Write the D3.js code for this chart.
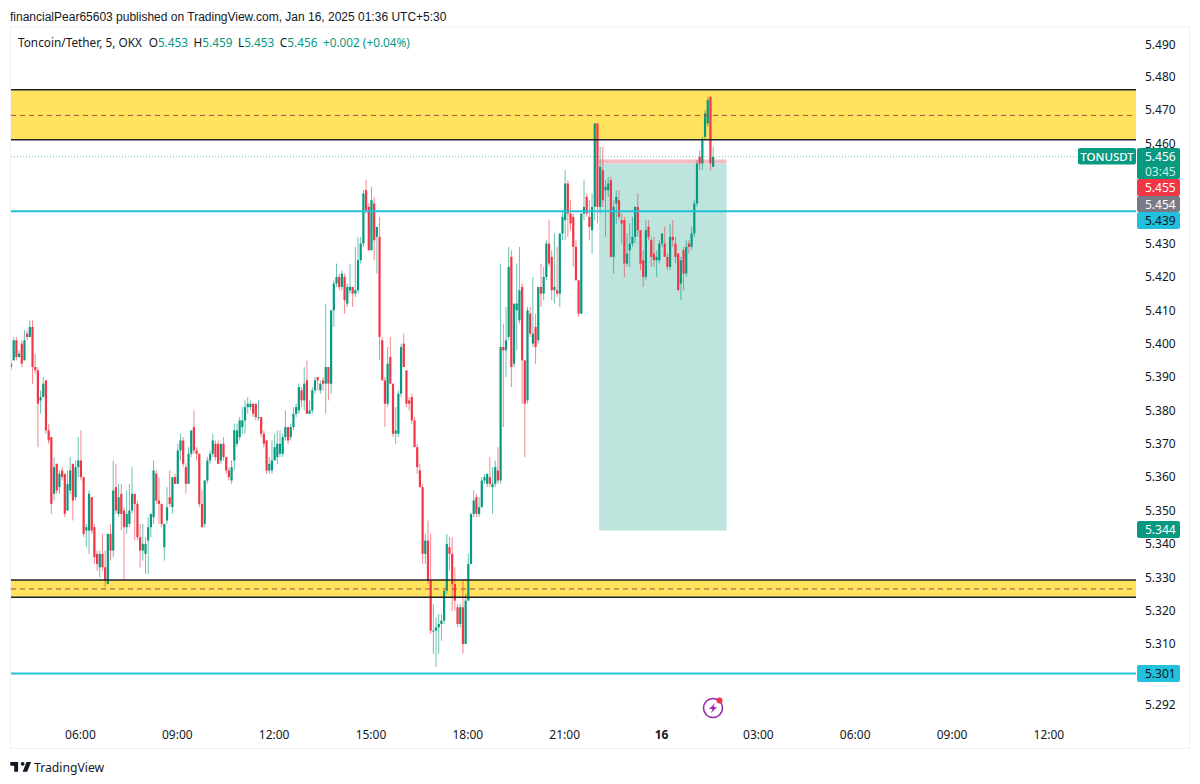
<!DOCTYPE html>
<html>
<head>
<meta charset="utf-8">
<title>TONUSDT</title>
<script src="https://cdnjs.cloudflare.com/ajax/libs/d3/7.8.5/d3.min.js"></script>
<style>
  html, body { margin: 0; padding: 0; background: #fff; }
  svg { display: block; }
  text { font-family: "Noto Sans", sans-serif; }
  .axis text { font-size: 12px; fill: #131722; }
  .axis path, .axis line { display: none; }
</style>
</head>
<body>
<div id="graph-viz"></div>
<script>
// 5 minute candles
const opens = [
  5.393,5.395,5.401,5.396,5.400,5.395,5.403,5.402,5.405,5.393,
  5.392,5.383,5.384,5.389,5.374,5.372,5.355,5.364,5.357,5.362,
  5.361,5.350,5.356,5.364,5.354,5.363,5.365,5.360,5.344,5.344,
  5.354,5.345,5.337,5.333,5.337,5.333,5.328,5.343,5.338,5.357,
  5.349,5.355,5.350,5.345,5.346,5.350,5.355,5.352,5.342,5.338,
  5.337,5.341,5.345,5.348,5.361,5.353,5.352,5.339,5.347,5.354,
  5.351,5.360,5.358,5.368,5.371,5.363,5.358,5.367,5.375,5.368,
  5.367,5.352,5.346,5.359,5.365,5.367,5.370,5.370,5.365,5.370,
  5.366,5.362,5.359,5.365,5.370,5.372,5.375,5.377,5.381,5.381,
  5.382,5.382,5.378,5.378,5.373,5.371,5.362,5.362,5.365,5.366,
  5.367,5.367,5.372,5.375,5.372,5.375,5.379,5.380,5.386,5.383,
  5.389,5.379,5.380,5.386,5.390,5.386,5.389,5.388,5.393,5.388,
  5.410,5.418,5.420,5.417,5.420,5.412,5.416,5.417,5.415,5.416,
  5.425,5.430,5.446,5.441,5.428,5.442,5.432,5.432,5.401,5.389,
  5.382,5.396,5.388,5.373,5.373,5.385,5.400,5.392,5.383,5.384,
  5.377,5.369,5.362,5.357,5.337,5.341,5.329,5.314,5.314,5.315,
  5.316,5.317,5.326,5.339,5.337,5.328,5.321,5.316,5.321,5.310,
  5.323,5.334,5.349,5.354,5.349,5.351,5.359,5.358,5.360,5.357,
  5.358,5.362,5.359,5.399,5.398,5.402,5.426,5.394,5.410,5.407,
  5.417,5.395,5.383,5.409,5.400,5.405,5.401,5.417,5.415,5.420,
  5.430,5.426,5.416,5.416,5.415,5.433,5.437,5.448,5.439,5.438,
  5.429,5.419,5.409,5.439,5.444,5.438,5.434,5.441,5.466,5.441,
  5.452,5.446,5.446,5.449,5.426,5.442,5.443,5.437,5.437,5.424,
  5.428,5.430,5.432,5.441,5.434,5.425,5.420,5.435,5.431,5.427,
  5.425,5.425,5.430,5.430,5.426,5.423,5.432,5.430,5.427,5.418,
  5.428,5.421,5.430,5.429,5.433,5.442,5.456,5.454,5.462,5.466,5.474,5.453
];
const highs = [
  5.395,5.402,5.402,5.398,5.401,5.404,5.404,5.407,5.407,5.397,
  5.393,5.386,5.390,5.389,5.376,5.372,5.366,5.364,5.362,5.363,
  5.361,5.362,5.366,5.364,5.365,5.372,5.374,5.360,5.346,5.356,
  5.354,5.346,5.338,5.338,5.343,5.338,5.343,5.346,5.365,5.364,
  5.358,5.358,5.351,5.356,5.358,5.363,5.355,5.353,5.346,5.346,
  5.342,5.348,5.349,5.365,5.362,5.360,5.352,5.346,5.357,5.362,
  5.360,5.361,5.370,5.373,5.372,5.364,5.369,5.374,5.380,5.369,
  5.367,5.356,5.359,5.366,5.368,5.373,5.371,5.371,5.370,5.372,
  5.366,5.363,5.365,5.376,5.376,5.378,5.381,5.383,5.384,5.383,
  5.382,5.382,5.383,5.378,5.374,5.371,5.366,5.371,5.373,5.374,
  5.374,5.373,5.380,5.375,5.376,5.381,5.382,5.388,5.387,5.393,
  5.395,5.383,5.387,5.390,5.390,5.389,5.390,5.412,5.393,5.410,
  5.419,5.424,5.421,5.422,5.421,5.418,5.424,5.417,5.429,5.432,
  5.432,5.446,5.449,5.442,5.447,5.444,5.435,5.438,5.402,5.390,
  5.399,5.402,5.388,5.381,5.386,5.400,5.403,5.392,5.384,5.385,
  5.378,5.370,5.364,5.358,5.343,5.347,5.343,5.322,5.318,5.319,
  5.319,5.326,5.343,5.342,5.342,5.333,5.322,5.322,5.329,5.325,
  5.337,5.349,5.356,5.355,5.354,5.360,5.361,5.361,5.366,5.363,
  5.365,5.369,5.424,5.406,5.411,5.429,5.428,5.412,5.424,5.429,
  5.418,5.395,5.411,5.411,5.420,5.409,5.417,5.424,5.423,5.431,
  5.437,5.428,5.433,5.429,5.433,5.440,5.452,5.449,5.443,5.439,
  5.431,5.419,5.439,5.449,5.445,5.443,5.445,5.466,5.466,5.459,
  5.459,5.449,5.450,5.450,5.443,5.446,5.446,5.439,5.438,5.433,
  5.436,5.438,5.441,5.445,5.434,5.428,5.437,5.437,5.432,5.432,
  5.428,5.431,5.433,5.435,5.427,5.436,5.437,5.432,5.427,5.426,
  5.429,5.431,5.431,5.435,5.443,5.455,5.458,5.462,5.470,5.474,5.474,5.459
];
const lows = [
  5.392,5.395,5.395,5.396,5.393,5.395,5.401,5.402,5.388,5.391,
  5.369,5.379,5.384,5.373,5.370,5.349,5.353,5.355,5.355,5.359,
  5.348,5.350,5.355,5.347,5.353,5.360,5.359,5.342,5.339,5.337,
  5.343,5.334,5.332,5.330,5.332,5.327,5.328,5.335,5.336,5.349,
  5.348,5.344,5.329,5.343,5.345,5.349,5.341,5.341,5.333,5.335,
  5.331,5.331,5.342,5.346,5.352,5.346,5.345,5.335,5.346,5.351,
  5.349,5.358,5.358,5.365,5.363,5.355,5.358,5.366,5.367,5.365,
  5.351,5.345,5.345,5.358,5.364,5.366,5.365,5.364,5.364,5.365,
  5.361,5.359,5.358,5.362,5.369,5.371,5.373,5.373,5.379,5.380,
  5.378,5.377,5.377,5.372,5.369,5.361,5.361,5.361,5.365,5.364,
  5.366,5.366,5.371,5.370,5.371,5.374,5.378,5.379,5.381,5.380,
  5.379,5.379,5.379,5.385,5.386,5.385,5.386,5.379,5.383,5.385,
  5.405,5.417,5.416,5.416,5.409,5.411,5.415,5.411,5.414,5.415,
  5.424,5.429,5.439,5.428,5.428,5.425,5.421,5.395,5.389,5.375,
  5.381,5.388,5.372,5.370,5.372,5.384,5.393,5.381,5.380,5.376,
  5.369,5.361,5.357,5.334,5.334,5.328,5.313,5.307,5.303,5.307,
  5.311,5.316,5.325,5.332,5.320,5.320,5.315,5.315,5.307,5.310,
  5.323,5.334,5.348,5.348,5.348,5.351,5.358,5.357,5.357,5.349,
  5.357,5.358,5.358,5.375,5.390,5.401,5.387,5.393,5.398,5.406,
  5.382,5.366,5.382,5.402,5.399,5.394,5.400,5.411,5.413,5.419,
  5.423,5.413,5.412,5.414,5.411,5.431,5.431,5.432,5.434,5.423,
  5.419,5.408,5.409,5.437,5.438,5.431,5.427,5.437,5.436,5.439,
  5.441,5.432,5.444,5.426,5.421,5.436,5.437,5.430,5.420,5.423,
  5.423,5.429,5.430,5.432,5.422,5.417,5.419,5.431,5.423,5.423,
  5.420,5.424,5.429,5.426,5.422,5.422,5.429,5.424,5.416,5.413,
  5.416,5.420,5.427,5.428,5.432,5.441,5.452,5.452,5.461,5.465,5.452,5.453
];
const closes = [
  5.394,5.401,5.396,5.397,5.394,5.401,5.402,5.405,5.393,5.392,
  5.382,5.384,5.388,5.374,5.371,5.352,5.363,5.356,5.361,5.360,
  5.349,5.358,5.362,5.353,5.363,5.365,5.360,5.343,5.345,5.355,
  5.344,5.336,5.334,5.337,5.333,5.329,5.343,5.338,5.356,5.350,
  5.354,5.349,5.345,5.349,5.350,5.355,5.352,5.342,5.338,5.340,
  5.340,5.345,5.349,5.362,5.353,5.352,5.346,5.346,5.351,5.352,
  5.360,5.358,5.368,5.371,5.364,5.358,5.367,5.374,5.368,5.367,
  5.352,5.345,5.359,5.365,5.367,5.371,5.366,5.364,5.370,5.366,
  5.362,5.360,5.363,5.374,5.374,5.377,5.377,5.381,5.382,5.382,
  5.379,5.378,5.378,5.373,5.370,5.362,5.364,5.365,5.369,5.370,
  5.370,5.372,5.375,5.371,5.375,5.379,5.381,5.387,5.383,5.388,
  5.379,5.380,5.386,5.389,5.389,5.388,5.388,5.393,5.388,5.410,
  5.418,5.420,5.417,5.421,5.413,5.417,5.417,5.415,5.416,5.425,
  5.430,5.445,5.440,5.428,5.443,5.431,5.435,5.402,5.389,5.382,
  5.394,5.388,5.373,5.374,5.385,5.399,5.393,5.382,5.382,5.377,
  5.369,5.363,5.357,5.337,5.341,5.329,5.314,5.314,5.315,5.316,
  5.317,5.326,5.340,5.337,5.328,5.323,5.316,5.321,5.310,5.323,
  5.334,5.349,5.353,5.349,5.351,5.359,5.360,5.361,5.358,5.358,
  5.363,5.359,5.399,5.398,5.401,5.423,5.393,5.412,5.412,5.416,
  5.395,5.382,5.410,5.403,5.403,5.399,5.417,5.415,5.420,5.430,
  5.424,5.416,5.417,5.415,5.433,5.438,5.448,5.439,5.436,5.429,
  5.419,5.409,5.439,5.441,5.439,5.435,5.441,5.466,5.441,5.453,
  5.443,5.447,5.448,5.426,5.441,5.444,5.438,5.436,5.424,5.427,
  5.430,5.432,5.441,5.434,5.424,5.420,5.434,5.432,5.426,5.425,
  5.426,5.430,5.433,5.426,5.423,5.432,5.431,5.426,5.416,5.425,
  5.421,5.429,5.429,5.433,5.442,5.454,5.454,5.461,5.469,5.473,5.454,5.456
];

// 5.450 and 5.440 sit behind the price labels in the original, so they are left out
const priceTicks = [5.49, 5.48, 5.47, 5.46, 5.43, 5.42, 5.41, 5.40, 5.39, 5.38,
  5.37, 5.36, 5.35, 5.34, 5.33, 5.32, 5.31, 5.292];
const timeTickBars = [26, 62, 98, 134, 170, 206, 242, 278, 314, 350, 386];
const timeTickLabels = ['06:00', '09:00', '12:00', '15:00', '18:00', '21:00', '16', '03:00', '06:00', '09:00', '12:00'];

// zones and levels drawn on the chart, in price: top, bottom, middle
const zones = [[5.4761, 5.4611, 5.4684], [5.3292, 5.3240, 5.3265]];
const levels = [5.4397, 5.3010];
const lastPrice = 5.456;
const positionBars = [218.6, 266];
const positionStop = 5.4552;
const positionEntry = 5.454;
const positionTarget = 5.344;

const GREEN = '#089981';
const RED = '#f23645';
const CYAN = '#22c1d6';
const width = 1200;
const height = 784;
const plotLeft = 11;
const plotRight = 1136;

const svg = d3.select('#graph-viz').append('svg')
  .attr('width', width)
  .attr('height', height)
  .attr('viewBox', `0 0 ${width} ${height}`);

const xScale = d3.scaleLinear().domain([0, 386]).range([11, 1049.4]);
const yScale = d3.scaleLinear()
  .domain([5.292, 5.301, 5.31, 5.48, 5.49])
  .range([705, 673.5, 644, 76.7, 44.7]);

// frame around the chart
svg.append('path')
  .attr('d', 'M10.5,27V748.5H1189.5V27H10.5')
  .attr('fill', 'none')
  .attr('stroke', '#f0f1f4');

svg.append('text')
  .attr('x', 10).attr('y', 20.5)
  .attr('font-size', 12)
  .attr('fill', '#131722')
  .style('font-family', '"Liberation Sans", sans-serif')
  .text('financialPear65603 published on TradingView.com, Jan 16, 2025 01:36 UTC+5:30');

// legend
const legend = svg.append('text').attr('x', 18).attr('y', 47).attr('font-size', 11.8).attr('fill', '#131722');
legend.append('tspan').text('Toncoin/Tether, 5, OKX');
[['O', '5.453'], ['H', '5.459'], ['L', '5.453'], ['C', '5.456']].forEach((d, i) => {
  legend.append('tspan').attr('dx', i === 0 ? 7 : 5.5).text(d[0]);
  legend.append('tspan').attr('fill', GREEN).text(d[1]);
});
legend.append('tspan').attr('dx', 5.5).attr('fill', GREEN).text('+0.002 (+0.04%)');

// yellow zones
zones.forEach((z) => {
  svg.append('rect')
    .attr('x', plotLeft).attr('width', plotRight - plotLeft)
    .attr('y', yScale(z[0])).attr('height', yScale(z[1]) - yScale(z[0]))
    .attr('fill', '#ffe25e');
});

// short position box
svg.append('rect')
  .attr('x', xScale(positionBars[0])).attr('width', xScale(positionBars[1]) - xScale(positionBars[0]))
  .attr('y', yScale(positionEntry)).attr('height', yScale(positionTarget) - yScale(positionEntry))
  .attr('fill', '#bde5de');
svg.append('rect')
  .attr('x', xScale(positionBars[0])).attr('width', xScale(positionBars[1]) - xScale(positionBars[0]))
  .attr('y', yScale(positionStop)).attr('height', yScale(positionEntry) - yScale(positionStop))
  .attr('fill', '#f5bcc4');

// candles
const bars = d3.range(opens.length);
const candles = svg.append('g').attr('clip-path', 'url(#plot-clip)');
svg.append('clipPath').attr('id', 'plot-clip').append('rect')
  .attr('x', plotLeft).attr('y', 27).attr('width', plotRight - plotLeft).attr('height', 700);

const barColor = (i) => (closes[i] >= opens[i] ? GREEN : RED);

candles.selectAll('line.wick')
  .data(bars)
  .enter()
  .append('line')
  .attr('class', 'wick')
  .attr('x1', (i) => xScale(i))
  .attr('x2', (i) => xScale(i))
  .attr('y1', (i) => yScale(highs[i]))
  .attr('y2', (i) => yScale(lows[i]))
  .attr('stroke', barColor)
  .attr('stroke-opacity', 0.6)
  .attr('stroke-width', 1);

candles.selectAll('rect.body')
  .data(bars)
  .enter()
  .append('rect')
  .attr('class', 'body')
  .attr('x', (i) => xScale(i) - 1.1)
  .attr('width', 2.2)
  .attr('y', (i) => yScale(Math.max(opens[i], closes[i])))
  .attr('height', (i) => Math.max(1, Math.abs(yScale(opens[i]) - yScale(closes[i]))))
  .attr('fill', barColor);

// lines over the candles
zones.forEach((z) => {
  [z[0], z[1]].forEach((p) => {
    svg.append('line')
      .attr('x1', plotLeft).attr('x2', plotRight)
      .attr('y1', yScale(p)).attr('y2', yScale(p))
      .attr('stroke', '#1e222d').attr('stroke-width', 1.5);
  });
  svg.append('line')
    .attr('x1', plotLeft).attr('x2', plotRight)
    .attr('y1', yScale(z[2])).attr('y2', yScale(z[2]))
    .attr('stroke', '#a84a4a').attr('stroke-width', 1)
    .attr('stroke-dasharray', '5 4');
});
levels.forEach((p) => {
  svg.append('line')
    .attr('x1', plotLeft).attr('x2', plotRight)
    .attr('y1', yScale(p)).attr('y2', yScale(p))
    .attr('stroke', CYAN).attr('stroke-width', 2);
});
svg.append('line')
  .attr('x1', plotLeft).attr('x2', 1078)
  .attr('y1', yScale(lastPrice)).attr('y2', yScale(lastPrice))
  .attr('stroke', GREEN).attr('stroke-opacity', 0.6).attr('stroke-width', 1)
  .attr('stroke-dasharray', '1 2');

// axes
const yAxis = d3.axisRight(yScale).tickValues(priceTicks).tickFormat(d3.format('.3f')).tickSize(0).tickPadding(0);
svg.append('g').attr('class', 'axis')
  .attr('transform', 'translate(1145,0)')
  .call(yAxis);

const xAxis = d3.axisBottom(xScale).tickValues(timeTickBars)
  .tickFormat((d, i) => timeTickLabels[i]).tickSize(0).tickPadding(0);
svg.append('g').attr('class', 'axis')
  .attr('transform', 'translate(-1,730)')
  .call(xAxis)
  .selectAll('text')
  .attr('font-weight', (d, i) => (timeTickLabels[i] === '16' ? 'bold' : 'normal'));

// price labels on the right
function priceLabel(label, y0, y1, textY, bg, fg) {
  svg.append('rect')
    .attr('x', 1137).attr('y', y0).attr('width', 43).attr('height', y1 - y0)
    .attr('rx', 2)
    .attr('fill', bg);
  svg.append('text')
    .attr('x', 1145).attr('y', textY)
    .attr('font-size', 12)
    .attr('fill', fg)
    .text(label);
}
priceLabel('5.456', 148, 179, 160.5, GREEN, '#fff');
svg.append('text')
  .attr('x', 1145).attr('y', 175.5)
  .attr('font-size', 12).attr('fill', '#c8ebe4')
  .text('03:45');
priceLabel('5.455', 179, 196, 192, RED, '#fff');
priceLabel('5.454', 196, 212, 208.5, '#787b86', '#fff');
priceLabel('5.439', 212, 229, 225, '#22c0dc', '#131722');
priceLabel('5.344', 521, 538, 534, GREEN, '#fff');
priceLabel('5.301', 665, 682, 678, '#22c0dc', '#131722');

svg.append('rect')
  .attr('x', 1078).attr('y', 148).attr('width', 58).attr('height', 16.5)
  .attr('rx', 2)
  .attr('fill', GREEN);
svg.append('text')
  .attr('x', 1107).attr('y', 160.5)
  .attr('text-anchor', 'middle')
  .attr('font-size', 11.5).attr('font-weight', 500).attr('fill', '#fff')
  .text('TONUSDT');

// replay / alert icon
const icon = svg.append('g').attr('transform', 'translate(713,708)');
icon.append('circle').attr('r', 9.5).attr('fill', 'none').attr('stroke', '#9c27b0').attr('stroke-width', 1.6);
icon.append('path').attr('d', 'M2,-5L-4,1H-0.5L-2,5L4,-1H0.5Z').attr('fill', '#9c27b0');
icon.append('circle').attr('cx', 6.5).attr('cy', -7.5).attr('r', 3).attr('fill', RED);

// TradingView logo
svg.append('path')
  .attr('transform', 'translate(9,758) scale(0.65)')
  .attr('d', 'M14 6H2v6h6v9h6V6zm14 15h-7l6-15h7l-6 15zm-7-9a3 3 0 1 0 0-6 3 3 0 0 0 0 6z')
  .attr('fill', '#131722');
svg.append('text')
  .attr('x', 34).attr('y', 771.5)
  .attr('font-size', 12.2)
  .attr('fill', '#131722')
  .text('TradingView');
</script>
</body>
</html>
